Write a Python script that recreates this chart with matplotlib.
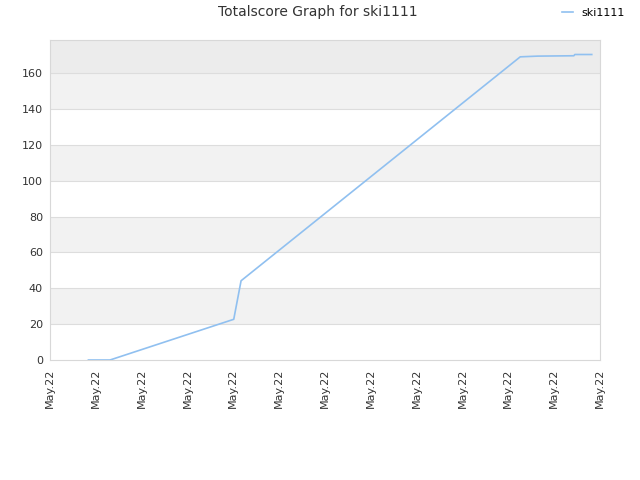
import matplotlib
matplotlib.use("Agg")
import matplotlib.pyplot as plt

# x in tick units (13 ticks all labelled May.22), y = total score
x_vals = [0.84, 1.31, 4.01, 4.17, 10.26, 10.64, 11.43, 11.45, 11.82]
scores = [0, 0, 22.7, 44.2, 169.1, 169.5, 169.7, 170.4, 170.4]
tick_labels = ["May.22"] * 13
player = "ski1111"

fig = plt.figure(figsize=(6.4, 4.8), dpi=100)
ax = fig.add_axes([0.078, 0.25, 0.8595, 0.6667])

ymax = 178.5
# alternating background bands
for lo in range(20, 160, 40):
    ax.axhspan(lo, lo + 20, color="#f2f2f2", zorder=0, lw=0)
ax.axhspan(160, ymax, color="#ececec", zorder=0, lw=0)
for y in range(20, 180, 20):
    ax.axhline(y, color="#dddddd", lw=0.8, zorder=1)

ax.plot(x_vals, scores, color="#90c0f0", lw=1.2, label=player, zorder=3)

ax.set_xlim(0, 12)
ax.set_ylim(0, ymax)
ax.set_xticks(range(13))
ax.set_xticklabels(tick_labels, rotation=90, fontsize=8, color="#333333")
ax.set_yticks(range(0, 180, 20))
ax.tick_params(axis="y", labelsize=8, labelcolor="#333333", length=0, pad=5)
ax.tick_params(axis="x", length=0, pad=6)
for s in ax.spines.values():
    s.set_color("#d8d8d8")

fig.suptitle("Totalscore Graph for " + player, x=0.497, y=0.99, fontsize=10, color="#333333")
fig.legend(loc="upper right", bbox_to_anchor=(0.992, 1.005), frameon=False,
           fontsize=8, handlelength=1.0, handletextpad=0.8)

fig.savefig("out.png")
